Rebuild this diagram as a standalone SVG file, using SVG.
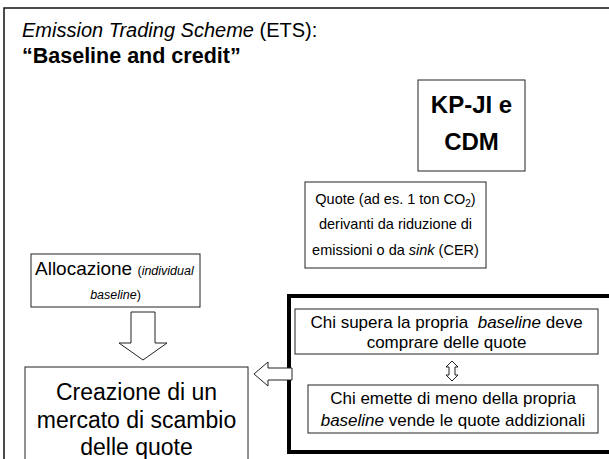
<svg xmlns="http://www.w3.org/2000/svg" width="609" height="459" viewBox="0 0 609 459">
<style>
text{font-family:"Liberation Sans",Arial,sans-serif;fill:#000}
.box{fill:#fff;stroke:#222;stroke-width:1}
.arr{fill:#fff;stroke:#222;stroke-width:1}
.c{text-anchor:middle}
.i{font-style:italic}
</style>
<rect x="0" y="0" width="609" height="459" fill="#fff"/>
<rect x="4" y="8" width="640" height="480" fill="none" stroke="#111" stroke-width="1.5"/>
<g id="title">
<text x="22" y="37" font-size="20"><tspan class="i">Emission Trading Scheme</tspan> (ETS):</text>
<text x="22" y="63" font-size="21.5" font-weight="bold">“Baseline and credit”</text>
</g>
<g id="kp">
<rect class="box" x="418" y="80" width="107" height="91"/>
<text class="c" x="471.5" y="113" font-size="24" font-weight="bold">KP-JI e</text>
<text class="c" x="471.5" y="150" font-size="24" font-weight="bold">CDM</text>
</g>
<g id="quote">
<rect class="box" x="305" y="182" width="181" height="86"/>
<text class="c" x="395.5" y="204" font-size="14.5">Quote (ad es. 1 ton CO<tspan font-size="10" dy="3">2</tspan><tspan dy="-3">)</tspan></text>
<text class="c" x="395.5" y="229" font-size="14.5">derivanti da riduzione di</text>
<text class="c" x="395.5" y="255" font-size="14.5">emissioni o da <tspan class="i">sink</tspan> (CER)</text>
</g>
<g id="allocazione">
<rect class="box" x="31" y="254" width="169" height="53"/>
<text x="35" y="275" font-size="19">Allocazione <tspan font-size="12.5">(<tspan class="i">individual</tspan></tspan></text>
<text class="c" x="115.5" y="299" font-size="12.5"><tspan class="i">baseline</tspan>)</text>
</g>
<g id="creazione">
<rect class="box" x="25" y="367" width="223" height="110"/>
<text class="c" x="136.5" y="400" font-size="23">Creazione di un</text>
<text class="c" x="136.5" y="428" font-size="23">mercato di scambio</text>
<text class="c" x="136.5" y="455" font-size="23">delle quote</text>
</g>
<g id="mercato">
<rect x="289" y="296" width="340" height="156" fill="none" stroke="#000" stroke-width="4"/>
<g id="supera">
<rect class="box" x="295" y="309" width="303" height="45"/>
<text class="c" x="446.5" y="328" font-size="17">Chi supera la propria&#160; <tspan class="i">baseline</tspan> deve</text>
<text class="c" x="446.5" y="348" font-size="17">comprare delle quote</text>
</g>
<g id="emette">
<rect class="box" x="308" y="385" width="290" height="48"/>
<text class="c" x="453" y="404" font-size="17">Chi emette di meno della propria</text>
<text class="c" x="453" y="426" font-size="17"><tspan class="i">baseline</tspan> vende le quote addizionali</text>
</g>
</g>
<g id="connectors">
<path class="arr" d="M131,312 H155 V343 H167 L143,360 L119,343 H131 Z"/>
<path class="arr" d="M292,368 V380 H268 V386 L254,374 L268,362 V368 Z"/>
<path class="arr" d="M452,361 L458,367 H455 V375 H458 L452,381 L446,375 H449 V367 H446 Z"/>
</g>
</svg>
